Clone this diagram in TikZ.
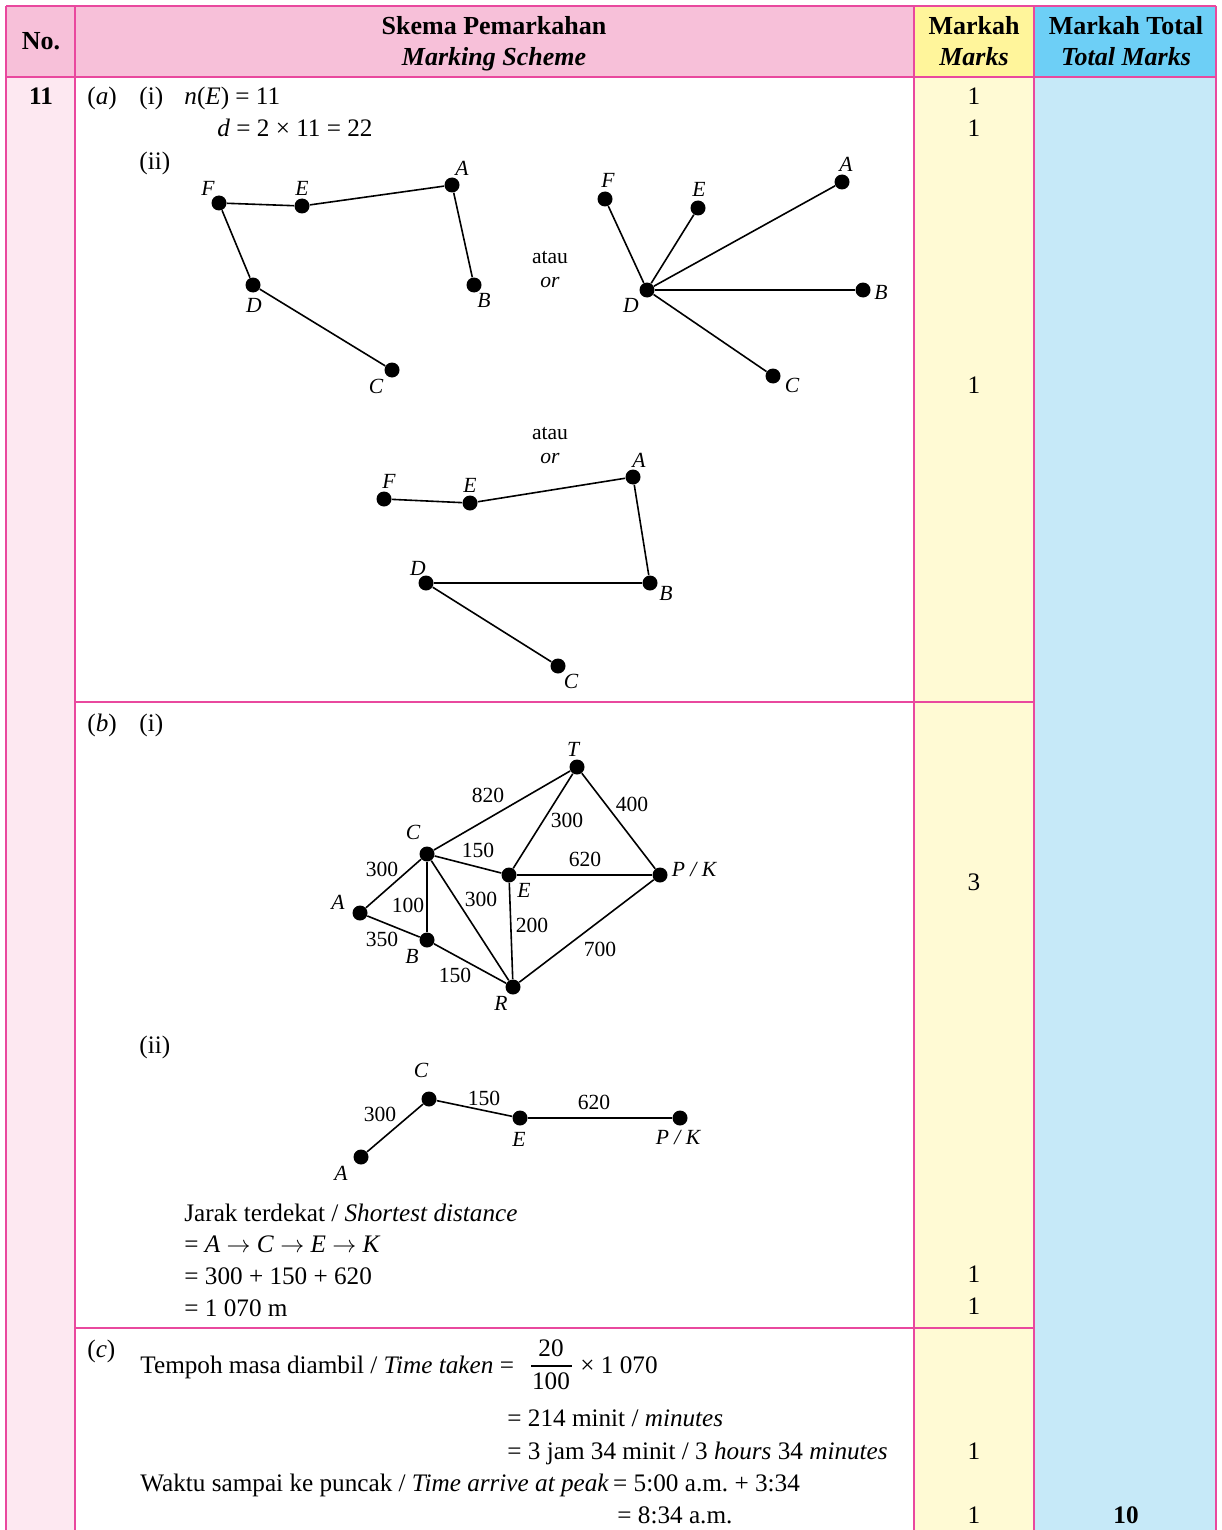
\documentclass[tikz,border=0pt]{standalone}
\usepackage{fontspec}
\setmainfont{Liberation Serif}
\frenchspacing
\definecolor{bordercol}{HTML}{E9489E}
\definecolor{hdpink}{HTML}{F7C0D9}
\definecolor{hdyellow}{HTML}{FFF59B}
\definecolor{hdblue}{HTML}{6DCFF6}
\definecolor{bdpink}{HTML}{FDE8F1}
\definecolor{bdyellow}{HTML}{FFFAD4}
\definecolor{bdblue}{HTML}{C6E9F8}
\newcommand{\rarr}{\ensuremath{\rightarrow}}
\begin{document}
\begin{tikzpicture}[x=0.5pt,y=-0.5pt,
  txt/.style={inner sep=0pt, font=\fontsize{12.6}{16}\selectfont},
  lt/.style={txt, anchor=base west},
  mk/.style={txt, anchor=base},
  hd/.style={inner sep=0pt, anchor=base, font=\fontsize{13}{15.5}\selectfont\bfseries},
  dot/.style={circle, fill=black, inner sep=0pt, minimum size=7.5pt},
  vl/.style={inner sep=0pt, font=\fontsize{10.8}{12}\selectfont\itshape},
  el/.style={inner sep=0pt, font=\fontsize{10.8}{12}\selectfont},
  edge/.style={line width=0.8pt},
  border/.style={draw=bordercol, line width=1pt}]
\useasboundingbox (0,0) rectangle (1221,1530);
% fills
\fill[hdpink] (6,6) rectangle (914,77);
\fill[hdyellow] (914,6) rectangle (1034,77);
\fill[hdblue] (1034,6) rectangle (1216,77);
\fill[bdpink] (6,77) rectangle (75,1530);
\fill[bdyellow] (914,77) rectangle (1034,1530);
\fill[bdblue] (1034,77) rectangle (1216,1530);
% borders
\draw[border] (6,6) -- (1216,6);
\draw[border] (6,77) -- (1216,77);
\draw[border] (6,6) -- (6,1530);
\draw[border] (75,6) -- (75,1530);
\draw[border] (914,6) -- (914,1530);
\draw[border] (1034,6) -- (1034,1530);
\draw[border] (1216,6) -- (1216,1530);
\draw[border] (75,702) -- (1034,702);
\draw[border] (75,1328) -- (1034,1328);
% header
\node[hd] (hNo) at (41,50) {No.};
\node[hd] (hScheme1) at (494,35) {Skema Pemarkahan};
\node[hd] (hScheme2) at (494,66) {\textit{Marking Scheme}};
\node[hd] (hMarks1) at (974,35) {Markah};
\node[hd] (hMarks2) at (974,66) {\textit{Marks}};
\node[hd] (hTotal1) at (1126,35) {Markah Total};
\node[hd] (hTotal2) at (1126,66) {\textit{Total Marks}};
% number
\node[mk, font=\fontsize{12.6}{16}\selectfont\bfseries] (qno) at (41,105) {11};
% part a
\node[lt] (pa) at (87,105) {(\textit{a})};
\node[lt] (pai) at (139,105) {(i)};
\node[lt] (aeq1) at (184,105) {\textit{n}(\textit{E}) = 11};
\node[lt] (aeq2) at (217,137) {\textit{d} = 2 × 11 = 22};
\node[lt] (paii) at (139,170) {(ii)};
% graph 1
\node[dot] (g1F) at (219,203) {};
\node[dot] (g1E) at (302,206) {};
\node[dot] (g1A) at (452,185) {};
\node[dot] (g1B) at (474,285) {};
\node[dot] (g1D) at (253,285) {};
\node[dot] (g1C) at (392,370) {};
\node[vl] (g1Fl) at (208,188) {F};
\node[vl] (g1El) at (302,188) {E};
\node[vl] (g1Al) at (462,168) {A};
\node[vl] (g1Bl) at (484,300) {B};
\node[vl] (g1Dl) at (254,305) {D};
\node[vl] (g1Cl) at (376,386) {C};
\draw[edge] (g1F) -- (g1E) -- (g1A) -- (g1B);
\draw[edge] (g1F) -- (g1D) -- (g1C);
\node[el] (or1a) at (550,258) {atau};
\node[el] (or1b) at (550,283) {\textit{or}};
% graph 2
\node[dot] (g2F) at (605,199) {};
\node[dot] (g2E) at (698,208) {};
\node[dot] (g2A) at (842,182) {};
\node[dot] (g2D) at (647,290) {};
\node[dot] (g2B) at (863,290) {};
\node[dot] (g2C) at (773,376) {};
\node[vl] (g2Fl) at (608,180) {F};
\node[vl] (g2El) at (699,189) {E};
\node[vl] (g2Al) at (846,164) {A};
\node[vl] (g2Dl) at (631,305) {D};
\node[vl] (g2Bl) at (881,292) {B};
\node[vl] (g2Cl) at (792,385) {C};
\draw[edge] (g2D) -- (g2F);
\draw[edge] (g2D) -- (g2E);
\draw[edge] (g2D) -- (g2A);
\draw[edge] (g2D) -- (g2B);
\draw[edge] (g2D) -- (g2C);
\node[el] (or2a) at (550,434) {atau};
\node[el] (or2b) at (550,459) {\textit{or}};
% graph 3
\node[dot] (g3F) at (384,499) {};
\node[dot] (g3E) at (470,503) {};
\node[dot] (g3A) at (633,477) {};
\node[dot] (g3B) at (650,583) {};
\node[dot] (g3D) at (426,583) {};
\node[dot] (g3C) at (558,666) {};
\node[vl] (g3Fl) at (389,481) {F};
\node[vl] (g3El) at (470,485) {E};
\node[vl] (g3Al) at (639,460) {A};
\node[vl] (g3Dl) at (418,568) {D};
\node[vl] (g3Bl) at (666,593) {B};
\node[vl] (g3Cl) at (571,681) {C};
\draw[edge] (g3F) -- (g3E) -- (g3A) -- (g3B) -- (g3D) -- (g3C);
% part b
\node[lt] (pb) at (87,731) {(\textit{b})};
\node[lt] (pbi) at (139,731) {(i)};
\node[dot] (g4T) at (577,767) {};
\node[dot] (g4C) at (427,854) {};
\node[dot] (g4E) at (509,875) {};
\node[dot] (g4P) at (660,875) {};
\node[dot] (g4A) at (360,913) {};
\node[dot] (g4B) at (427,940) {};
\node[dot] (g4R) at (513,987) {};
\node[vl] (g4Tl) at (573,749) {T};
\node[vl] (g4Cl) at (413,832) {C};
\node[vl] (g4El) at (524,890) {E};
\node[vl] (g4Pl) at (694,869) {P / K};
\node[vl] (g4Al) at (338,902) {A};
\node[vl] (g4Bl) at (412,956) {B};
\node[vl] (g4Rl) at (501,1003) {R};
\draw[edge] (g4C) -- (g4T);
\draw[edge] (g4T) -- (g4E);
\draw[edge] (g4T) -- (g4P);
\draw[edge] (g4C) -- (g4E);
\draw[edge] (g4E) -- (g4P);
\draw[edge] (g4A) -- (g4C);
\draw[edge] (g4C) -- (g4B);
\draw[edge] (g4C) -- (g4R);
\draw[edge] (g4E) -- (g4R);
\draw[edge] (g4A) -- (g4B);
\draw[edge] (g4B) -- (g4R);
\draw[edge] (g4R) -- (g4P);
\node[el] (w820) at (488,795) {820};
\node[el] (w400) at (632,804) {400};
\node[el] (w300a) at (567,820) {300};
\node[el] (w150a) at (478,850) {150};
\node[el] (w620) at (585,859) {620};
\node[el] (w300b) at (382,869) {300};
\node[el] (w100) at (408,905) {100};
\node[el] (w300c) at (481,899) {300};
\node[el] (w200) at (532,925) {200};
\node[el] (w350) at (382,939) {350};
\node[el] (w150b) at (455,975) {150};
\node[el] (w700) at (600,949) {700};
\node[lt] (pbii) at (139,1053) {(ii)};
\node[dot] (g5C) at (429,1099) {};
\node[dot] (g5E) at (520,1118) {};
\node[dot] (g5P) at (680,1118) {};
\node[dot] (g5A) at (361,1157) {};
\node[vl] (g5Cl) at (421,1070) {C};
\node[vl] (g5El) at (519,1139) {E};
\node[vl] (g5Pl) at (678,1137) {P / K};
\node[vl] (g5Al) at (341,1173) {A};
\draw[edge] (g5A) -- (g5C) -- (g5E) -- (g5P);
\node[el] (v300) at (380,1114) {300};
\node[el] (v150) at (484,1098) {150};
\node[el] (v620) at (594,1102) {620};
\node[lt] (bl1) at (184,1221) {Jarak terdekat / \textit{Shortest distance}};
\node[lt] (bl2) at (184,1252) {= \textit{A} \rarr{} \textit{C} \rarr{} \textit{E} \rarr{} \textit{K}};
\node[lt] (bl3) at (184,1284) {= 300 + 150 + 620};
\node[lt] (bl4) at (184,1316) {= 1 070 m};
% part c
\node[lt] (pc) at (87,1357) {(\textit{c})};
\node[lt] (cl1) at (140,1373) {Tempoh masa diambil / \textit{Time taken} =};
\node[txt] (fnum) at (551,1348) {20};
\node[txt] (fden) at (551,1381) {100};
\draw[line width=0.6pt] (531,1366) -- (572,1366);
\node[lt] (cl1b) at (580,1373) {× 1 070};
\node[lt] (cl2) at (507,1426) {= 214 minit / \textit{minutes}};
\node[lt] (cl3) at (507,1459) {= 3 jam 34 minit / 3 \textit{hours} 34 \textit{minutes}};
\node[lt] (cl4) at (140,1491) {Waktu sampai ke puncak / \textit{Time arrive at peak}\,= 5:00 a.m. + 3:34};
\node[lt] (cl5) at (617,1523) {= 8:34 a.m.};
% marks
\node[mk] (m1) at (974,105) {1};
\node[mk] (m2) at (974,137) {1};
\node[mk] (m3) at (974,393) {1};
\node[mk] (m4) at (974,890) {3};
\node[mk] (m5) at (974,1282) {1};
\node[mk] (m6) at (974,1314) {1};
\node[mk] (m7) at (974,1459) {1};
\node[mk] (m8) at (974,1523) {1};
\node[mk, font=\fontsize{12.6}{16}\selectfont\bfseries] (tot) at (1126,1523) {10};
\end{tikzpicture}
\end{document}
